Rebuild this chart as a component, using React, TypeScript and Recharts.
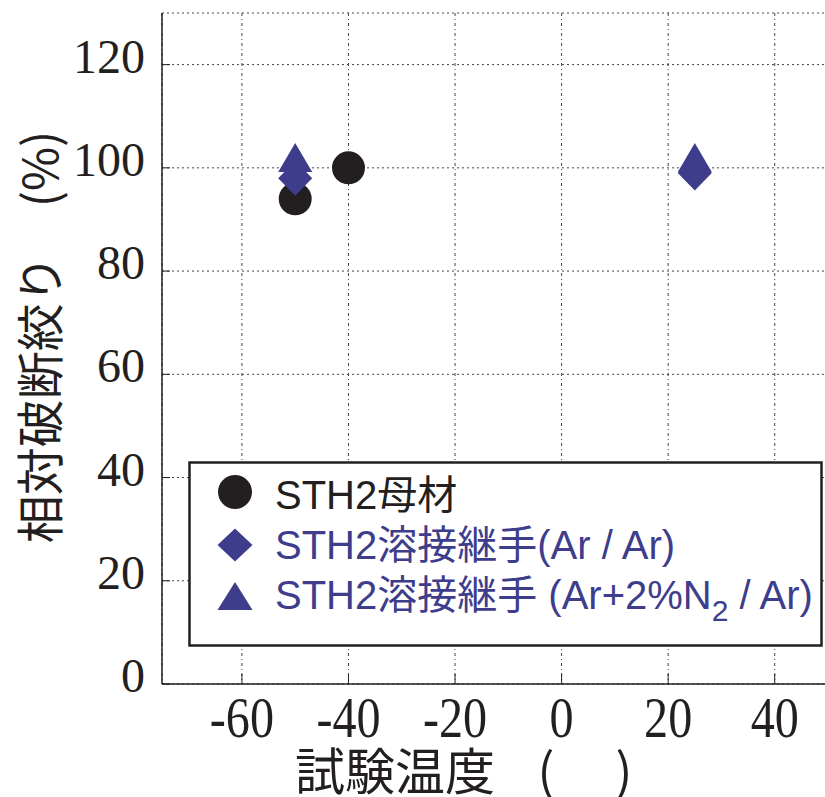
import React from 'react';
import {
  ScatterChart,
  Scatter,
  XAxis,
  YAxis,
  CartesianGrid,
  ReferenceLine,
  Legend,
} from 'recharts';

// test temperature (°C) / relative reduction of area (%)
const baseTemps = [-50, -40];
const baseValues = [94, 100];
const arTemps = [-50, 25];
const arValues = [98, 99];
const n2Temps = [-50, 25];
const n2Values = [102, 102];

const xTicks = [-60, -40, -20, 0, 20, 40];
const yTicks = [0, 20, 40, 60, 80, 100, 120];

const seriesNames = [
  'STH2母材',
  'STH2溶接継手(Ar / Ar)',
  'STH2溶接継手(Ar+2%N2/Ar)',
];

const BLACK = '#231f20';
const BLUE = '#3e3d8c';

const toPoints = (xs: number[], ys: number[]) => xs.map((x, i) => ({ x, y: ys[i] }));

const baseData = toPoints(baseTemps, baseValues);
const arData = toPoints(arTemps, arValues);
const n2Data = toPoints(n2Temps, n2Values);

const CircleMark = (props: any) => {
  const { cx, cy, r = 16.5, fill = BLACK } = props;
  return <circle cx={cx} cy={cy} r={r} fill={fill} />;
};

const DiamondMark = (props: any) => {
  const { cx, cy, w = 34, h = 35, fill = BLUE } = props;
  return (
    <polygon
      points={`${cx},${cy - h / 2} ${cx + w / 2},${cy} ${cx},${cy + h / 2} ${cx - w / 2},${cy}`}
      fill={fill}
    />
  );
};

const TriangleMark = (props: any) => {
  const { cx, cy, w = 34, h = 29, fill = BLUE } = props;
  return (
    <polygon
      points={`${cx},${cy - h / 2} ${cx + w / 2},${cy + h / 2} ${cx - w / 2},${cy + h / 2}`}
      fill={fill}
    />
  );
};

const XTick = (props: any) => {
  const { x, y, payload } = props;
  return (
    <g>
      <line x1={x} x2={x} y1={y} y2={y - 10} stroke={BLACK} />
      <text
        transform={`translate(${x},${y + 53}) scale(0.86,1)`}
        textAnchor="middle"
        fontFamily="'Liberation Serif', serif"
        fontSize={56}
        fill={BLACK}
      >
        {payload.value}
      </text>
    </g>
  );
};

const XTopTick = (props: any) => {
  const { x, y } = props;
  return <line x1={x} x2={x} y1={y} y2={y + 8} stroke={BLACK} />;
};

const YTick = (props: any) => {
  const { x, y, payload } = props;
  return (
    <g>
      <line x1={x} x2={x + 8} y1={y} y2={y} stroke={BLACK} />
      <text
        x={x - 17}
        y={y + 8}
        textAnchor="end"
        fontFamily="'Liberation Serif', serif"
        fontSize={48}
        fill={BLACK}
      >
        {payload.value}
      </text>
    </g>
  );
};

const XTitle = () => (
  <g fill={BLACK}>
    <text x={295} y={790} fontFamily="'Noto Sans CJK JP'" fontSize={50}>
      試験温度
    </text>
    <text x={546} y={790} textAnchor="middle" fontFamily="'Noto Sans CJK JP'" fontSize={50}>
      (
    </text>
    <text x={624} y={790} textAnchor="middle" fontFamily="'Noto Sans CJK JP'" fontSize={50}>
      )
    </text>
  </g>
);

const YTitle = () => (
  <text
    transform="translate(58,337) rotate(-90)"
    textAnchor="middle"
    fontFamily="'Noto Sans CJK JP'"
    fontSize={48}
    fill={BLACK}
  >
    相対破断絞り　(%)
  </text>
);

const legendFont = "'Liberation Sans', Arial, 'Noto Sans CJK JP', sans-serif";

const LegendBox = () => (
  <svg width={636} height={187} style={{ display: 'block' }}>
    <rect x={1.5} y={1.5} width={632} height={183} fill="#fff" stroke={BLACK} strokeWidth={2.5} />
    <CircleMark cx={47} cy={31} r={17} />
    <text x={87} y={48} fontFamily={legendFont} fontSize={40} fill={BLACK}>
      {seriesNames[0]}
    </text>
    <DiamondMark cx={47} cy={84} w={35} h={33} />
    <text x={87} y={98} fontFamily={legendFont} fontSize={40} fill={BLUE}>
      {seriesNames[1]}
    </text>
    <TriangleMark cx={47} cy={135} w={35} h={28} />
    <text x={87} y={148} fontFamily={legendFont} fontSize={40} fill={BLUE}>
      STH2溶接継手 (Ar+2%N
      <tspan fontSize={30} dy={12}>2</tspan>
      <tspan dy={-12}> / Ar)</tspan>
    </text>
  </svg>
);

const App = () => {
  return (
    <div style={{ position: 'absolute', left: 0, top: 0, width: 825, height: 797, overflow: 'hidden', background: '#fff' }}>
      <ScatterChart width={830} height={797} margin={{ top: 13, right: 2, left: 0, bottom: 0 }}>
        <CartesianGrid horizontal={false} stroke="#444" strokeDasharray="3 3 1 3" />
        <CartesianGrid vertical={false} stroke="#444" strokeDasharray="2 3" />
        <XAxis
          type="number"
          dataKey="x"
          domain={[-75, 50]}
          ticks={xTicks}
          height={113}
          tickSize={0}
          tickMargin={0}
          tickLine={false}
          axisLine={{ stroke: BLACK, strokeWidth: 1.5 }}
          tick={<XTick />}
          label={<XTitle />}
          allowDataOverflow
        />
        <XAxis
          xAxisId="top"
          orientation="top"
          type="number"
          dataKey="x"
          domain={[-75, 50]}
          ticks={xTicks}
          height={0}
          tickSize={0}
          tickMargin={0}
          tickLine={false}
          axisLine={{ stroke: BLACK, strokeWidth: 1.5 }}
          tick={<XTopTick />}
        />
        <YAxis
          type="number"
          dataKey="y"
          domain={[0, 130]}
          ticks={yTicks}
          width={162}
          tickSize={0}
          tickMargin={0}
          tickLine={false}
          axisLine={{ stroke: BLACK, strokeWidth: 1.5 }}
          tick={<YTick />}
          label={<YTitle />}
          allowDataOverflow
        />
        <ReferenceLine x={50} stroke={BLACK} strokeWidth={1.5} />
        <Legend
          layout="vertical"
          align="center"
          verticalAlign="middle"
          wrapperStyle={{ left: 188, top: 461, width: 636, height: 187 }}
          content={<LegendBox />}
        />
        <Scatter name={seriesNames[0]} data={baseData} shape={<CircleMark />} isAnimationActive={false} />
        <Scatter name={seriesNames[1]} data={arData} shape={<DiamondMark />} isAnimationActive={false} />
        <Scatter name={seriesNames[2]} data={n2Data} shape={<TriangleMark />} isAnimationActive={false} />
      </ScatterChart>
    </div>
  );
};

export default App;
